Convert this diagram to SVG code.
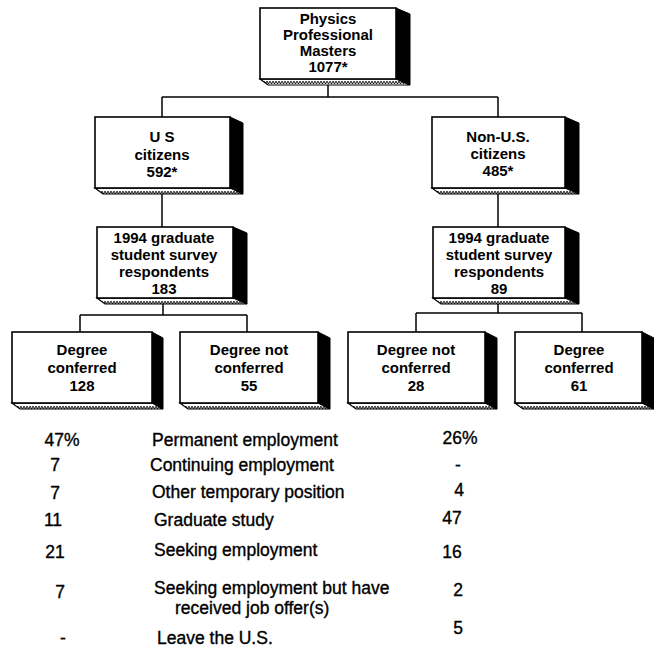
<svg xmlns="http://www.w3.org/2000/svg" width="654" height="652" viewBox="0 0 654 652">
<defs>
<pattern id="zig" width="3" height="5" patternUnits="userSpaceOnUse">
<rect width="3" height="5" fill="#fff"/>
<path d="M0,1 L1.5,4 L3,1" fill="none" stroke="#000" stroke-width="0.9"/>
</pattern>
</defs>
<style>
.face{fill:#fff;stroke:#000;stroke-width:1.6}
.side{fill:#000;stroke:#000;stroke-width:1}
.bot{fill:url(#zig);stroke:#000;stroke-width:1.2}
.bt{font-family:"Liberation Sans",Arial,sans-serif;font-weight:bold;font-size:15px;text-anchor:middle;fill:#000}
.tt{font-family:"Liberation Sans",Arial,sans-serif;font-size:17.5px;fill:#000;stroke:#000;stroke-width:0.35}
.m{text-anchor:middle}
.conn line{stroke:#000;stroke-width:1.5}
</style>
<rect width="654" height="652" fill="#fff"/>

<g class="conn">
<line x1="328" y1="84" x2="328" y2="97"/>
<line x1="162" y1="97" x2="498" y2="97"/>
<line x1="162" y1="97" x2="162" y2="117"/>
<line x1="498" y1="97" x2="498" y2="117"/>
<line x1="162" y1="194" x2="162" y2="227"/>
<line x1="498" y1="194" x2="498" y2="227"/>
<line x1="163" y1="304" x2="163" y2="315"/>
<line x1="80" y1="315" x2="247" y2="315"/>
<line x1="80" y1="315" x2="80" y2="332"/>
<line x1="247" y1="315" x2="247" y2="332"/>
<line x1="498" y1="304" x2="498" y2="313"/>
<line x1="416" y1="313" x2="582" y2="313"/>
<line x1="416" y1="313" x2="416" y2="332"/>
<line x1="582" y1="313" x2="582" y2="332"/>
</g>

<g id="n-top">
<polygon class="side" points="396,8 410,14 410,85 396,79"/>
<polygon class="bot" points="260,79 396,79 410,85 268,85"/>
<rect class="face" x="260" y="8" width="136" height="71"/>
<text class="bt" x="328" y="24">Physics</text>
<text class="bt" x="328" y="40">Professional</text>
<text class="bt" x="328" y="56">Masters</text>
<text class="bt" x="328" y="72">1077*</text>
</g>

<g id="n-us">
<polygon class="side" points="230,117 243,123 243,194 230,188"/>
<polygon class="bot" points="95,188 230,188 243,194 103,194"/>
<rect class="face" x="95" y="117" width="135" height="71"/>
<text class="bt" x="162" y="142">U S</text>
<text class="bt" x="162" y="160">citizens</text>
<text class="bt" x="162" y="177">592*</text>
</g>

<g id="n-nonus">
<polygon class="side" points="565,117 579,123 579,194 565,188"/>
<polygon class="bot" points="432,188 565,188 579,194 440,194"/>
<rect class="face" x="432" y="117" width="133" height="71"/>
<text class="bt" x="498" y="142">Non-U.S.</text>
<text class="bt" x="498" y="159">citizens</text>
<text class="bt" x="498" y="176">485*</text>
</g>

<g id="n-resp-us">
<polygon class="side" points="233,227 247,233 247,304 233,298"/>
<polygon class="bot" points="97,298 233,298 247,304 105,304"/>
<rect class="face" x="97" y="227" width="136" height="71"/>
<text class="bt" x="164" y="243">1994 graduate</text>
<text class="bt" x="164" y="260">student survey</text>
<text class="bt" x="164" y="277">respondents</text>
<text class="bt" x="164" y="294">183</text>
</g>

<g id="n-resp-non">
<polygon class="side" points="565,227 579,233 579,304 565,298"/>
<polygon class="bot" points="433,298 565,298 579,304 441,304"/>
<rect class="face" x="433" y="227" width="132" height="71"/>
<text class="bt" x="499" y="243">1994 graduate</text>
<text class="bt" x="499" y="260">student survey</text>
<text class="bt" x="499" y="277">respondents</text>
<text class="bt" x="499" y="294">89</text>
</g>

<g id="n-deg-us">
<polygon class="side" points="152,332 163,338 163,409 152,403"/>
<polygon class="bot" points="12,403 152,403 163,409 20,409"/>
<rect class="face" x="12" y="332" width="140" height="71"/>
<text class="bt" x="82" y="355">Degree</text>
<text class="bt" x="82" y="373">conferred</text>
<text class="bt" x="82" y="391">128</text>
</g>

<g id="n-notdeg-us">
<polygon class="side" points="318,332 330,338 330,409 318,403"/>
<polygon class="bot" points="180,403 318,403 330,409 188,409"/>
<rect class="face" x="180" y="332" width="138" height="71"/>
<text class="bt" x="249" y="355">Degree not</text>
<text class="bt" x="249" y="373">conferred</text>
<text class="bt" x="249" y="391">55</text>
</g>

<g id="n-notdeg-non">
<polygon class="side" points="485,332 497,338 497,409 485,403"/>
<polygon class="bot" points="348,403 485,403 497,409 356,409"/>
<rect class="face" x="348" y="332" width="137" height="71"/>
<text class="bt" x="416" y="355">Degree not</text>
<text class="bt" x="416" y="373">conferred</text>
<text class="bt" x="416" y="391">28</text>
</g>

<g id="n-deg-non">
<polygon class="side" points="642,332 654,338 654,409 642,403"/>
<polygon class="bot" points="515,403 642,403 654,409 523,409"/>
<rect class="face" x="515" y="332" width="127" height="71"/>
<text class="bt" x="579" y="355">Degree</text>
<text class="bt" x="579" y="373">conferred</text>
<text class="bt" x="579" y="391">61</text>
</g>

<g id="table">
<text class="tt m" x="62" y="446">47%</text>
<text class="tt" x="152" y="446">Permanent employment</text>
<text class="tt m" x="460" y="444">26%</text>

<text class="tt m" x="55" y="471">7</text>
<text class="tt" x="150" y="471">Continuing employment</text>
<text class="tt m" x="458" y="471">-</text>

<text class="tt m" x="55" y="499">7</text>
<text class="tt" x="152" y="498">Other temporary position</text>
<text class="tt m" x="459" y="496">4</text>

<text class="tt m" x="53" y="526">11</text>
<text class="tt" x="154" y="526">Graduate study</text>
<text class="tt m" x="452" y="524">47</text>

<text class="tt m" x="55" y="558">21</text>
<text class="tt" x="154" y="556">Seeking employment</text>
<text class="tt m" x="452" y="558">16</text>

<text class="tt m" x="60" y="598">7</text>
<text class="tt" x="154" y="594">Seeking employment but have</text>
<text class="tt" x="175" y="614">received job offer(s)</text>
<text class="tt m" x="458" y="596">2</text>

<text class="tt m" x="63" y="644">-</text>
<text class="tt" x="157" y="644">Leave the U.S.</text>
<text class="tt m" x="458" y="634">5</text>
</g>
</svg>
